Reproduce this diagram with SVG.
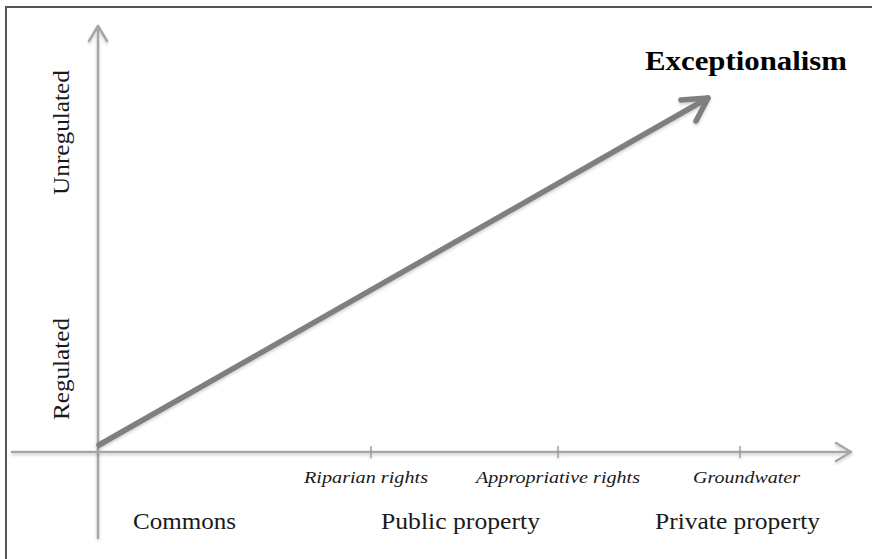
<svg xmlns="http://www.w3.org/2000/svg" width="872" height="559" viewBox="0 0 872 559">
  <defs>
    <style>
      .axis { stroke: #a6a6a6; stroke-width: 2.5; fill: none; stroke-linecap: round; stroke-linejoin: round; }
      .tick { stroke: #8c8c8c; stroke-width: 1.2; }
      .trend { stroke: #7f7f7f; stroke-width: 5.5; fill: none; stroke-linecap: round; stroke-linejoin: round; }
      .lbl { font-family: "Liberation Serif", "DejaVu Serif", serif; fill: #1a1a1a; }
      .cat { font-size: 22.5px; }
      .sub { font-size: 17.5px; font-style: italic; }
      .title { font-size: 27px; font-weight: bold; fill: #000; }
    </style>
    <filter id="soft" x="-10%" y="-10%" width="120%" height="130%">
      <feDropShadow dx="0" dy="2" stdDeviation="1.6" flood-color="#000" flood-opacity="0.18"/>
    </filter>
  </defs>
  <rect width="872" height="559" fill="#fff"/>
  <!-- frame -->
  <path d="M6,566 V7 H880" fill="none" stroke="#555" stroke-width="2"/>

  <g id="connectors">
    <!-- vertical axis -->
    <g id="y-axis" filter="url(#soft)">
      <path class="axis" d="M98,538 V26"/>
      <path class="axis" d="M89,41 L98,26 L107,41"/>
    </g>
    <!-- horizontal axis -->
    <g id="x-axis" filter="url(#soft)">
      <path class="axis" d="M12,452 H851"/>
      <path class="axis" d="M836,443 L851,452 L836,461"/>
      <line class="tick" x1="371" y1="446" x2="371" y2="458"/>
      <line class="tick" x1="558" y1="446" x2="558" y2="458"/>
      <line class="tick" x1="740" y1="446" x2="740" y2="458"/>
    </g>
    <!-- trend arrow -->
    <g id="trend" filter="url(#soft)">
      <path class="trend" d="M99,445 L708,98"/>
      <path class="trend" d="M681,100 L708,98 L696,121"/>
    </g>
  </g>

  <g id="exceptionalism">
    <text class="lbl title" x="645" y="70" textLength="202" lengthAdjust="spacingAndGlyphs">Exceptionalism</text>
  </g>
  <g id="unregulated">
    <text class="lbl cat" transform="translate(69,195) rotate(-90)" textLength="125" lengthAdjust="spacingAndGlyphs">Unregulated</text>
  </g>
  <g id="regulated">
    <text class="lbl cat" transform="translate(69,420) rotate(-90)" textLength="102" lengthAdjust="spacingAndGlyphs">Regulated</text>
  </g>
  <g id="riparian">
    <text class="lbl sub" x="304" y="483" textLength="124" lengthAdjust="spacingAndGlyphs">Riparian rights</text>
  </g>
  <g id="appropriative">
    <text class="lbl sub" x="476" y="483" textLength="164" lengthAdjust="spacingAndGlyphs">Appropriative rights</text>
  </g>
  <g id="groundwater">
    <text class="lbl sub" x="693" y="483" textLength="107" lengthAdjust="spacingAndGlyphs">Groundwater</text>
  </g>
  <g id="commons">
    <text class="lbl cat" x="133" y="529" textLength="103" lengthAdjust="spacingAndGlyphs">Commons</text>
  </g>
  <g id="public">
    <text class="lbl cat" x="381" y="529" textLength="159" lengthAdjust="spacingAndGlyphs">Public property</text>
  </g>
  <g id="private">
    <text class="lbl cat" x="655" y="529" textLength="165" lengthAdjust="spacingAndGlyphs">Private property</text>
  </g>
</svg>
